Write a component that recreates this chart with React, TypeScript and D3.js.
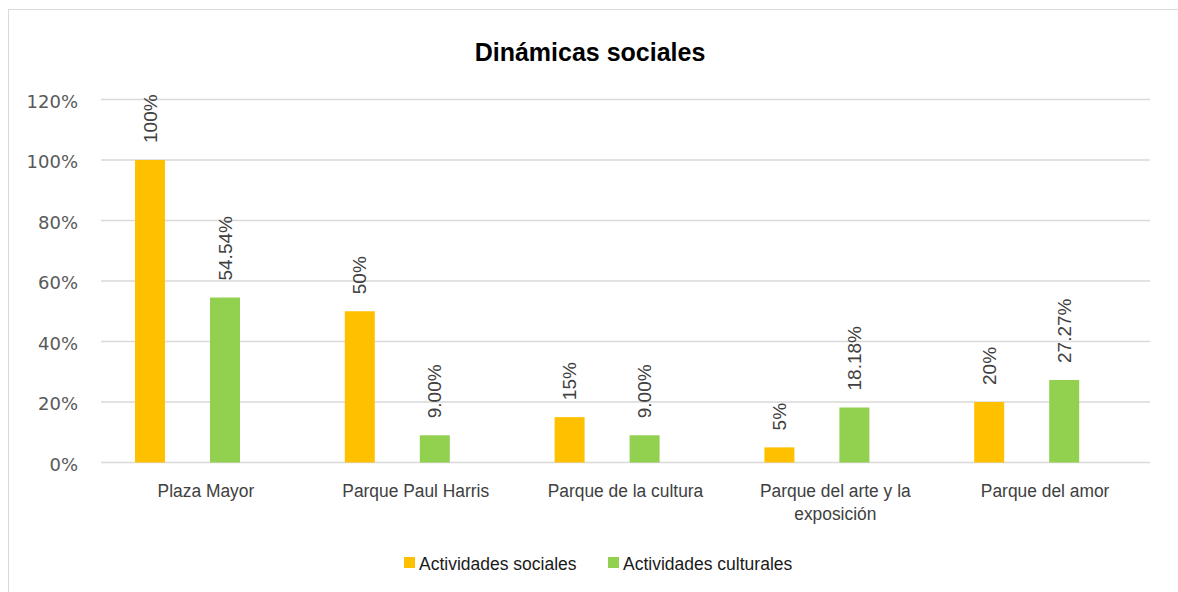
import React from "react";
import * as d3 from "d3";

const categories = [
  ["Plaza Mayor"],
  ["Parque Paul Harris"],
  ["Parque de la cultura"],
  ["Parque del arte y la", "exposición"],
  ["Parque del amor"],
];
const seriesNames = ["Actividades sociales", "Actividades culturales"];
const sociales = [100, 50, 15, 5, 20];
const culturales = [54.54, 9, 9, 18.18, 27.27];
const socialesLabels = ["100%", "50%", "15%", "5%", "20%"];
const culturalesLabels = ["54.54%", "9.00%", "9.00%", "18.18%", "27.27%"];
const yTicks = [0, 20, 40, 60, 80, 100, 120];
const colors = ["#FFC000", "#92D050"];

export default function App() {
  const W = 1178;
  const H = 592;
  const left = 101;
  const right = 1150;
  const top = 99.5;
  const bottom = 462.5;

  const x = d3
    .scaleBand<number>()
    .domain(d3.range(categories.length))
    .range([left, right]);
  const xs = d3
    .scaleBand<number>()
    .domain([0, 1])
    .range([34, 139])
    .paddingInner(0.6)
    .paddingOuter(0);
  const y = d3.scaleLinear().domain([0, 120]).range([bottom, top]);

  const series = [
    { values: sociales, labels: socialesLabels },
    { values: culturales, labels: culturalesLabels },
  ];

  const font = "'Liberation Sans', Arial, sans-serif";

  return (
    <svg
      width={W}
      height={H}
      style={{ position: "absolute", left: 0, top: 0, display: "block", background: "#fff" }}
    >
      <rect x={8.5} y={9.5} width={1300} height={700} fill="#fff" stroke="#d9d9d9" strokeWidth={1} />
      <text
        x={590}
        y={61}
        textAnchor="middle"
        fontFamily={font}
        fontWeight="bold"
        fontSize={25}
        fill="#000"
      >
        Dinámicas sociales
      </text>
      {yTicks.map((t) => (
        <g key={t}>
          <line x1={left} x2={right} y1={y(t)} y2={y(t)} stroke="#d9d9d9" strokeWidth={1.5} />
          <text
            x={78}
            y={y(t) + 8}
            textAnchor="end"
            fontFamily="'DejaVu Sans', sans-serif"
            fontSize={18}
            fill="#595959"
          >
            {t}%
          </text>
        </g>
      ))}
      {series.map((s, si) =>
        s.values.map((v, i) => {
          const bx = (x(i) as number) + (xs(si) as number);
          const bw = xs.bandwidth();
          const cx = bx + bw / 2;
          const ty = y(v) - 17;
          return (
            <g key={`${si}-${i}`}>
              <rect x={bx} y={y(v)} width={bw} height={bottom - y(v)} fill={colors[si]} />
              <text
                transform={`translate(${cx},${ty}) rotate(-90)`}
                dy="0.35em"
                textAnchor="start"
                fontFamily={font}
                fontSize={19}
                fill="#404040"
              >
                {s.labels[i]}
              </text>
            </g>
          );
        })
      )}
      {categories.map((lines, i) => (
        <g key={i} transform={`translate(${(x(i) as number) + x.bandwidth() / 2},497) scale(0.915,1)`}>
          <text textAnchor="middle" fontFamily={font} fontSize={19} fill="#404040">
            {lines.map((l, li) => (
              <tspan key={li} x={0} y={li * 23.5}>
                {l}
              </tspan>
            ))}
          </text>
        </g>
      ))}
      {seriesNames.map((n, i) => {
        const lx = [404, 608][i];
        return (
          <g key={n}>
            <rect x={lx} y={557} width={11} height={11} fill={colors[i]} />
            <text x={lx + 15} y={570} fontFamily={font} fontSize={17.5} fill="#1a1a1a">
              {n}
            </text>
          </g>
        );
      })}
    </svg>
  );
}
